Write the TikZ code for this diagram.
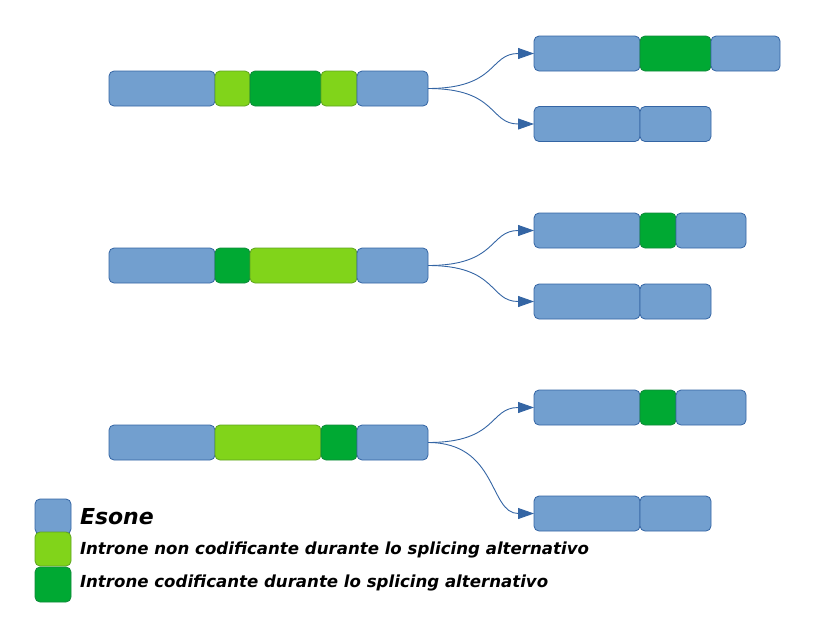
\documentclass[tikz,border=0pt]{standalone}
\usepackage{fontspec}
\setmainfont{DejaVu Sans}
\usetikzlibrary{positioning,arrows.meta}
\definecolor{exonfill}{HTML}{729FCF}
\definecolor{exonline}{HTML}{3465A4}
\definecolor{lightfill}{HTML}{81D41A}
\definecolor{lightline}{HTML}{5EA320}
\definecolor{darkfill}{HTML}{00A933}
\definecolor{darkline}{HTML}{10893A}

\begin{document}
\begin{tikzpicture}[x=1pt, y=-1pt, node distance=0pt,
		every node/.style = {inner sep=0pt, outer sep=0pt},
		box/.style = {shape=rectangle, rounded corners=5pt, draw, minimum height=35pt, line width=0.8pt},
		exon/.style = {box, fill=exonfill, draw=exonline},
		intronnc/.style = {box, fill=lightfill, draw=lightline},
		intronc/.style = {box, fill=darkfill, draw=darkline},
		splice/.style = {draw=exonline, line width=0.9pt, -{Triangle[length=16pt,width=11pt]}},
		legend/.style = {anchor=base west}]
	\useasboundingbox (0,0) rectangle (816,638);

	% primo gene
	\node[exon, minimum width=106pt, anchor=west] (g1a) at (109,88.5) {};
	\node[intronnc, minimum width=35pt, right=of g1a] (g1b) {};
	\node[intronc, minimum width=71pt, right=of g1b] (g1c) {};
	\node[intronnc, minimum width=36pt, right=of g1c] (g1d) {};
	\node[exon, minimum width=71pt, right=of g1d] (g1e) {};
	\node[exon, minimum width=106pt, anchor=west] (r1a) at (534,53.5) {};
	\node[intronc, minimum width=71pt, right=of r1a] (r1b) {};
	\node[exon, minimum width=69pt, right=of r1b] (r1c) {};
	\node[exon, minimum width=106pt, anchor=west] (s1a) at (534,124) {};
	\node[exon, minimum width=71pt, right=of s1a] (s1b) {};
	\draw[splice] (g1e.east) .. controls +(70,0) and +(-45,0) .. (r1a.west);
	\draw[splice] (g1e.east) .. controls +(70,0) and +(-45,0) .. (s1a.west);

	% secondo gene
	\node[exon, minimum width=106pt, anchor=west] (g2a) at (109,265.5) {};
	\node[intronc, minimum width=35pt, right=of g2a] (g2b) {};
	\node[intronnc, minimum width=107pt, right=of g2b] (g2c) {};
	\node[exon, minimum width=71pt, right=of g2c] (g2d) {};
	\node[exon, minimum width=106pt, anchor=west] (r2a) at (534,230.5) {};
	\node[intronc, minimum width=36pt, right=of r2a] (r2b) {};
	\node[exon, minimum width=70pt, right=of r2b] (r2c) {};
	\node[exon, minimum width=106pt, anchor=west] (s2a) at (534,301.5) {};
	\node[exon, minimum width=71pt, right=of s2a] (s2b) {};
	\draw[splice] (g2d.east) .. controls +(70,0) and +(-45,0) .. (r2a.west);
	\draw[splice] (g2d.east) .. controls +(70,0) and +(-45,0) .. (s2a.west);

	% terzo gene
	\node[exon, minimum width=106pt, anchor=west] (g3a) at (109,442.5) {};
	\node[intronnc, minimum width=106pt, right=of g3a] (g3b) {};
	\node[intronc, minimum width=36pt, right=of g3b] (g3c) {};
	\node[exon, minimum width=71pt, right=of g3c] (g3d) {};
	\node[exon, minimum width=106pt, anchor=west] (r3a) at (534,407.5) {};
	\node[intronc, minimum width=36pt, right=of r3a] (r3b) {};
	\node[exon, minimum width=70pt, right=of r3b] (r3c) {};
	\node[exon, minimum width=106pt, anchor=west] (s3a) at (534,513.5) {};
	\node[exon, minimum width=71pt, right=of s3a] (s3b) {};
	\draw[splice] (g3d.east) .. controls +(70,0) and +(-45,0) .. (r3a.west);
	\draw[splice] (g3d.east) .. controls +(70,0) and +(-45,0) .. (s3a.west);

	% legenda
	\node[exon, minimum width=36pt, minimum height=35pt] (k1) at (53,516.5) {};
	\node[intronnc, minimum width=36pt, minimum height=34pt] (k2) at (53,549) {};
	\node[intronc, minimum width=36pt, minimum height=35pt] (k3) at (53,584.5) {};
	\node[legend, font=\fontsize{22}{22}\selectfont\bfseries\itshape] (t1) at (80,524) {Esone};
	\node[legend, font=\fontsize{16.6}{17}\selectfont\bfseries\itshape] (t2) at (80,554) {Introne non codificante durante lo splicing alternativo};
	\node[legend, font=\fontsize{16.6}{17}\selectfont\bfseries\itshape] (t3) at (80,587) {Introne codificante durante lo splicing alternativo};
\end{tikzpicture}
\end{document}
